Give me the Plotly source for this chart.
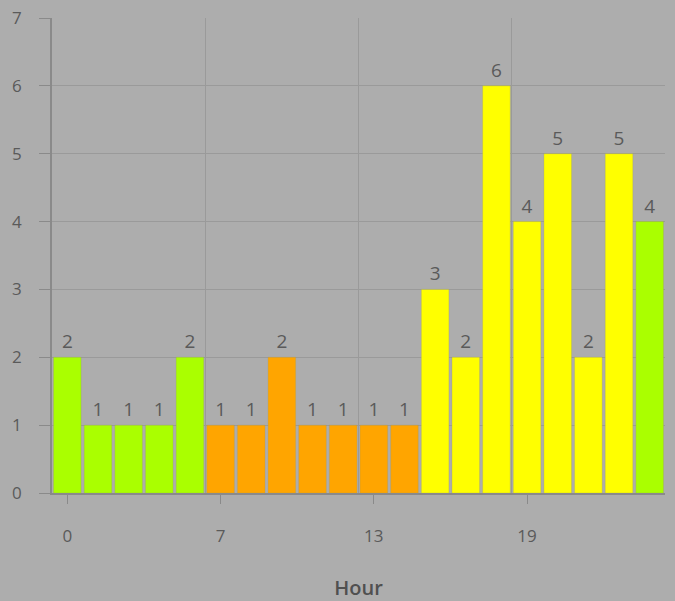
import plotly.graph_objects as go

hours = ["0", "1", "3", "4", "6", "7", "9", "10", "11", "12",
         "13", "14", "15", "17", "18", "19", "20", "21", "22", "23"]
counts = [2, 1, 1, 1, 2, 1, 1, 2, 1, 1, 1, 1, 3, 2, 6, 4, 5, 2, 5, 4]
periods = ["night"] * 5 + ["day"] * 7 + ["evening"] * 7 + ["night"]
tick_labels = ["0", "7", "13", "19"]

period_colors = {"night": "#aaff00", "day": "#ffa500", "evening": "#ffff00"}

idx = list(range(len(hours)))
tick_idx = [hours.index(t) for t in tick_labels]

fig = go.Figure(go.Bar(
    x=idx, y=counts,
    marker=dict(color=[period_colors[p] for p in periods],
                line=dict(color="rgba(150,150,100,0.5)", width=0.5)),
    text=[str(c) for c in counts], textposition="outside",
    textfont=dict(family="Open Sans", size=19, color="#5a5a5a"),
    cliponaxis=False, hoverinfo="x+y",
))

fig.update_layout(
    width=675, height=601,
    paper_bgcolor="#adadad", plot_bgcolor="#adadad",
    margin=dict(l=52, r=10, t=18, b=108),
    bargap=0.1, showlegend=False,
    font=dict(family="Open Sans", color="#5a5a5a"),
)
fig.update_xaxes(
    automargin=False,
    range=[-0.5, len(hours) - 0.5],
    tickmode="array", tickvals=tick_idx, ticktext=tick_labels,
    ticks="outside", ticklen=9, tickcolor="#8a8a8a", tickwidth=1,
    ticklabelstandoff=18,
    tickfont=dict(size=17, color="#5a5a5a"),
    showgrid=False, zeroline=False,
    showline=True, linecolor="#8a8a8a", linewidth=1.5,
    minor=dict(tick0=-0.5, dtick=5, showgrid=True, gridcolor="#9a9a9a",
               gridwidth=1, ticks=""),
    title=dict(text="Hour", font=dict(size=20, color="#505050", family="Open Sans",
                                      weight=600),
               standoff=36),
)
fig.update_yaxes(
    automargin=False,
    range=[0, 7], dtick=1,
    ticks="outside", ticklen=11, tickcolor="#8a8a8a",
    ticklabelstandoff=14,
    tickfont=dict(size=17, color="#5a5a5a"),
    showgrid=True, gridcolor="#9a9a9a", gridwidth=1,
    zeroline=False,
    showline=True, linecolor="#8a8a8a", linewidth=1.5,
)

fig.write_html("out.html", config={"displayModeBar": False},
               post_script="document.body.style.margin='0';document.body.style.background='#adadad';")
